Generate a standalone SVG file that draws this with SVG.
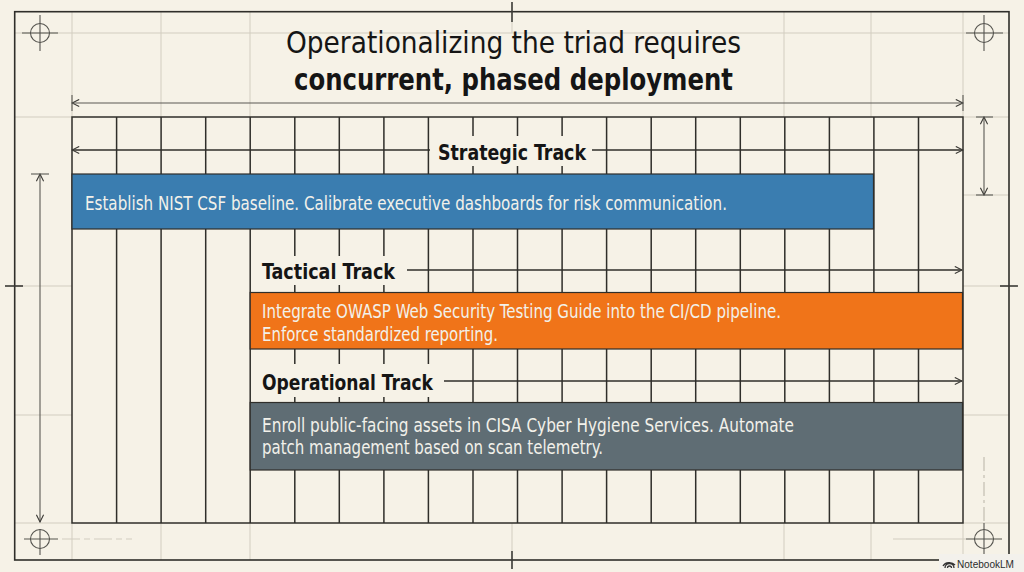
<svg xmlns="http://www.w3.org/2000/svg" width="1024" height="572" viewBox="0 0 1024 572">
<defs>
<style>
.grid{stroke:#2f2e2a;stroke-width:1.5;fill:none}
.faint{stroke:#d2cdc0;stroke-width:1;fill:none}
.dim{stroke:#5a5954;stroke-width:1.1;fill:none}
.reg{stroke:#55544f;stroke-width:1.1;fill:none}
.conn{stroke:#2f2e2a;stroke-width:1.4;fill:none}
.title{font-family:"Liberation Sans Narrow","DejaVu Sans Condensed","Liberation Sans",sans-serif;font-size:31px;fill:#151515}
.label{font-family:"Liberation Sans Narrow","DejaVu Sans Condensed","Liberation Sans",sans-serif;font-size:21px;font-weight:bold;fill:#151515}
.body{font-family:"Liberation Sans Narrow","DejaVu Sans Condensed","Liberation Sans",sans-serif;font-size:19px;fill:#f2f1ea}
.bg{fill:#f6f2e7}
</style>
<marker id="ah" viewBox="0 0 10 10" refX="9" refY="5" markerWidth="9" markerHeight="9" markerUnits="userSpaceOnUse" orient="auto-start-reverse">
<path d="M1,1 L9,5 L1,9" fill="none" stroke="#3a3935" stroke-width="1.2"/>
</marker>
</defs>
<rect width="1024" height="572" fill="#f6f2e7"/>

<!-- faint construction lines -->
<g class="faint">
<line x1="15" y1="33" x2="1009" y2="33"/>
<line x1="15" y1="117" x2="72" y2="117"/><line x1="963" y1="117" x2="1009" y2="117"/>
<line x1="963" y1="195" x2="1009" y2="195"/>
<line x1="15" y1="286" x2="72" y2="286"/><line x1="963" y1="286" x2="1009" y2="286"/>
<line x1="15" y1="415" x2="72" y2="415"/><line x1="963" y1="415" x2="1009" y2="415"/>
<line x1="15" y1="523" x2="72" y2="523"/><line x1="963" y1="523" x2="1009" y2="523"/>
<line x1="72" y1="12" x2="72" y2="117"/><line x1="161" y1="12" x2="161" y2="117"/><line x1="250" y1="12" x2="250" y2="117"/>
<line x1="784" y1="12" x2="784" y2="117"/><line x1="871" y1="12" x2="871" y2="117"/><line x1="963" y1="12" x2="963" y2="117"/>
<line x1="72" y1="523" x2="72" y2="560"/><line x1="161" y1="523" x2="161" y2="560"/><line x1="250" y1="523" x2="250" y2="560"/>
<line x1="784" y1="523" x2="784" y2="560"/><line x1="871" y1="523" x2="871" y2="560"/><line x1="963" y1="523" x2="963" y2="560"/>
<line x1="512" y1="22" x2="512" y2="33"/><line x1="512" y1="523" x2="512" y2="551"/>
<line x1="62" y1="539" x2="132" y2="539" stroke-dasharray="18 4 6 4"/>
<line x1="893" y1="539" x2="966" y2="539"/>
<line x1="984" y1="457" x2="984" y2="521" stroke-dasharray="14 4 3 4" stroke="#b8b3a6"/>
</g>

<!-- outer frame and centre marks -->
<rect x="14.7" y="11.7" width="994.3" height="548.3" fill="none" stroke="#2f2e2a" stroke-width="1.6"/>
<g stroke="#3a3935" stroke-width="1.6">
<line x1="512" y1="2" x2="512" y2="22"/>
<line x1="512" y1="551" x2="512" y2="569"/>
<line x1="5" y1="286" x2="23" y2="286"/>
<line x1="1000" y1="286" x2="1018" y2="286"/>
</g>

<!-- registration marks -->
<g class="reg">
<circle cx="40" cy="33" r="9.5"/><line x1="22" y1="33" x2="58" y2="33"/><line x1="40" y1="15" x2="40" y2="51"/>
<circle cx="984" cy="33" r="9.5"/><line x1="966" y1="33" x2="1003" y2="33"/><line x1="984" y1="15" x2="984" y2="51"/>
<circle cx="40" cy="539" r="9.5"/><line x1="24" y1="539" x2="58" y2="539"/><line x1="40" y1="529" x2="40" y2="555"/>
<circle cx="984" cy="539" r="9.5"/><line x1="966" y1="539" x2="1002" y2="539"/><line x1="984" y1="523" x2="984" y2="556"/>
</g>

<!-- dimension lines -->
<g class="dim">
<line x1="72" y1="103" x2="963" y2="103" marker-start="url(#ah)" marker-end="url(#ah)"/>
<line x1="72" y1="95" x2="72" y2="111"/><line x1="963" y1="95" x2="963" y2="111"/>
<line x1="984" y1="117" x2="984" y2="195" marker-start="url(#ah)" marker-end="url(#ah)"/>
<line x1="976" y1="117" x2="993" y2="117"/><line x1="976" y1="195" x2="993" y2="195"/>
<line x1="40" y1="174" x2="40" y2="522" marker-start="url(#ah)" marker-end="url(#ah)"/>
<line x1="31" y1="174" x2="49" y2="174"/>
</g>

<!-- schedule grid -->
<g class="grid">
<rect x="72" y="117" width="891" height="406"/>
<path d="M116.6,117V523M161.1,117V523M205.7,117V523M250.2,117V523M294.8,117V523M339.3,117V523M383.9,117V523M428.4,117V523M473,117V523M517.5,117V523M562.1,117V523M606.6,117V523M651.2,117V523M695.7,117V523M740.3,117V523M784.8,117V523M829.4,117V523M873.9,117V523M918.5,117V523"/>
</g>

<!-- connectors -->
<g id="connectors" class="conn">
<line x1="72" y1="150" x2="963" y2="150" marker-start="url(#ah)" marker-end="url(#ah)"/>
<line x1="407" y1="270" x2="962" y2="270" marker-end="url(#ah)"/>
<line x1="444" y1="381" x2="962" y2="381" marker-end="url(#ah)"/>
</g>

<!-- title -->
<g id="title">
<text class="title" x="286" y="53" textLength="455" lengthAdjust="spacingAndGlyphs">Operationalizing the triad requires</text>
<text class="title" x="294" y="90" font-weight="bold" textLength="439" lengthAdjust="spacingAndGlyphs">concurrent, phased deployment</text>
</g>

<!-- strategic -->
<g id="strategic-track">
<rect class="bg" x="430" y="136" width="162" height="30"/>
<text class="label" x="438" y="160" textLength="148" lengthAdjust="spacingAndGlyphs">Strategic Track</text>
<rect x="72" y="174" width="801.5" height="55" fill="#3a7db0" stroke="#2f2e2a" stroke-width="1.2"/>
<text class="body" x="85" y="210" textLength="642" lengthAdjust="spacingAndGlyphs">Establish NIST CSF baseline. Calibrate executive dashboards for risk communication.</text>
</g>

<!-- tactical -->
<g id="tactical-track">
<rect class="bg" x="252" y="256" width="151" height="29"/>
<text class="label" x="262" y="279" textLength="133" lengthAdjust="spacingAndGlyphs">Tactical Track</text>
<rect x="250.2" y="292.5" width="712.3" height="56.5" fill="#f07419" stroke="#2f2e2a" stroke-width="1.2"/>
<text class="body" x="262" y="318" textLength="519" lengthAdjust="spacingAndGlyphs">Integrate OWASP Web Security Testing Guide into the CI/CD pipeline.</text>
<text class="body" x="262" y="340.5" textLength="236" lengthAdjust="spacingAndGlyphs">Enforce standardized reporting.</text>
</g>

<!-- operational -->
<g id="operational-track">
<rect class="bg" x="252" y="364" width="188" height="33"/>
<text class="label" x="262" y="390" textLength="171" lengthAdjust="spacingAndGlyphs">Operational Track</text>
<rect x="250.2" y="402.5" width="712.3" height="67.5" fill="#5f6d74" stroke="#2f2e2a" stroke-width="1.2"/>
<text class="body" x="262" y="432" textLength="532" lengthAdjust="spacingAndGlyphs">Enroll public-facing assets in CISA Cyber Hygiene Services. Automate</text>
<text class="body" x="262" y="453.5" textLength="341" lengthAdjust="spacingAndGlyphs">patch management based on scan telemetry.</text>
</g>

<!-- watermark -->
<g id="watermark">
<rect x="939" y="554" width="85" height="18" fill="#f3f1ec"/>
<path d="M945,568 a4.5,4.5 0 0 1 9,0 M947.5,568 a2,2 0 0 1 4,0 M943,566 a7,6 0 0 1 12,-1" fill="none" stroke="#333" stroke-width="1.3"/>
<text x="957" y="567.5" font-family="'Liberation Sans',sans-serif" font-size="11" fill="#2c2c2c" textLength="57" lengthAdjust="spacingAndGlyphs">NotebookLM</text>
</g>
</svg>
